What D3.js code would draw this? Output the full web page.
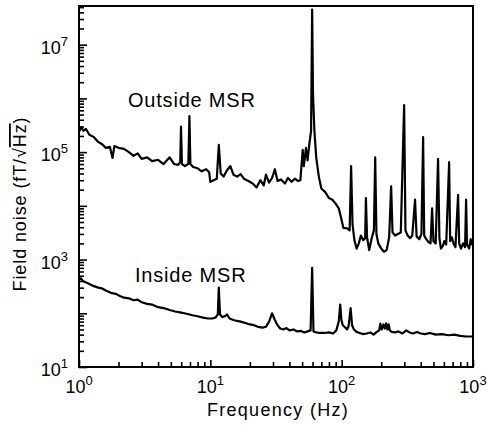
<!DOCTYPE html>
<html>
<head>
<meta charset="utf-8">
<script src="https://cdn.jsdelivr.net/npm/d3@7"></script>
<style>
  body { margin: 0; background: #fff; }
  text { font-family: "Liberation Sans", Arial, sans-serif; fill: #000; }
</style>
</head>
<body>
<div id="noise_chart"></div>
<script>

let outside_freq = [1.0, 1.04, 1.08, 1.13, 1.2, 1.3, 1.4, 1.5, 1.6, 1.72, 1.8, 1.86, 2.0, 2.2, 2.4, 2.6, 2.8, 3.0, 3.3, 3.6,
    4.0, 4.4, 4.9, 5.3, 5.7, 5.9, 5.98, 6.08, 6.4, 6.8, 6.93, 7.05, 7.4, 8.0, 8.6, 9.3, 9.8, 10.0, 10.6, 11.2,
    11.6, 12.0, 12.6, 13.4, 14.2, 15.0, 16.0, 17.0, 18.0, 19.5, 21.0, 22.5, 24.0, 25.5, 26.5, 28.0, 29.5, 31.0, 32.5, 34.5,
    37.0, 39.0, 41.5, 44.0, 46.5, 48.5, 50.5, 51.5, 53.5, 55.0, 56.5, 58.5, 59.6, 60.5, 62.0, 64.0, 67.0, 70.0, 75.0, 80.0,
    85.0, 90.0, 95.0, 99.0, 103, 110, 115, 118, 121, 125, 130, 135, 140, 146, 151, 153, 156, 162, 170, 176,
    180, 184, 190, 200, 210, 220, 230, 238, 244, 255, 268, 282, 299, 306, 318, 332, 345, 362, 372, 390,
    405, 417, 425, 440, 460, 475, 488, 500, 520, 542, 555, 570, 590, 605, 625, 658, 670, 690, 710, 735,
    770, 785, 810, 840, 870, 886, 900, 935, 960, 985, 1000];
let outside_noise = [2.4e5, 2.9e5, 2.5e5, 2.7e5, 2.1e5, 1.9e5, 1.55e5, 1.4e5, 1.2e5, 1.25e5, 7.8e4, 1.3e5, 1.2e5, 1.15e5, 1.0e5, 8.5e4, 9.5e4, 7.5e4, 8.0e4, 6.8e4,
    7.2e4, 6.0e4, 8.0e4, 6.0e4, 5.8e4, 6.5e4, 3.0e5, 6.0e4, 5.5e4, 6.0e4, 4.7e5, 6.0e4, 5.3e4, 5.0e4, 4.4e4, 4.8e4, 4.2e4, 2.8e4, 3.0e4, 3.2e4,
    1.36e5, 4.0e4, 3.5e4, 4.6e4, 5.5e4, 3.8e4, 3.5e4, 3.9e4, 3.2e4, 2.9e4, 2.6e4, 2.2e4, 3.0e4, 2.4e4, 3.8e4, 2.7e4, 3.3e4, 4.8e4, 2.9e4, 3.1e4,
    2.6e4, 3.3e4, 2.8e4, 3.2e4, 2.9e4, 3.0e4, 1.1e5, 5.5e4, 1.2e5, 7.0e4, 1.3e5, 2.5e5, 4.5e7, 1.2e6, 2.5e5, 8.0e4, 3.5e4, 2.1e4, 1.8e4, 1.4e4,
    1.3e4, 1.1e4, 9.0e3, 6.0e3, 3.9e3, 3.8e3, 3.5e3, 5.5e4, 4.5e3, 2.3e3, 1.6e3, 2.0e3, 2.8e3, 2.3e3, 2.5e3, 1.4e4, 2.6e3, 1.5e3, 2.6e3, 3.5e3,
    8.0e4, 3.0e3, 2.0e3, 1.6e3, 1.4e3, 1.5e3, 2.6e3, 2.3e4, 3.2e3, 2.8e3, 3.0e3, 3.2e3, 7.5e5, 3.5e3, 2.8e3, 2.5e3, 2.8e3, 1.3e4, 2.7e3, 2.4e3,
    3.0e3, 1.9e5, 2.8e3, 2.4e3, 2.1e3, 2.0e3, 9.0e3, 2.2e3, 2.0e3, 7.5e4, 2.5e3, 1.6e3, 1.8e3, 2.2e3, 1.9e3, 6.5e4, 2.2e3, 2.6e3, 2.0e3, 1.7e3,
    1.6e4, 2.0e3, 1.6e3, 2.0e3, 1.7e3, 1.3e4, 1.9e3, 1.6e3, 2.4e3, 1.9e3, 2.1e3];

let inside_freq = [1.0, 1.03, 1.07, 1.12, 1.2, 1.3, 1.4, 1.5, 1.6, 1.75, 1.9, 2.05, 2.2, 2.4, 2.6, 2.8, 3.0, 3.3, 3.6, 4.0,
    4.4, 4.9, 5.4, 6.0, 6.6, 7.3, 8.0, 8.8, 9.6, 10.4, 11.0, 11.4, 11.6, 11.85, 12.3, 12.9, 13.4, 14.0, 15.0, 16.0,
    17.0, 18.5, 20.0, 21.5, 23.0, 25.0, 26.5, 28.0, 29.5, 31.0, 32.5, 34.0, 36.0, 38.0, 40.0, 43.0, 46.0, 49.0, 52.0, 55.0,
    58.0, 59.6, 61.0, 64.0, 68.0, 74.0, 80.0, 86.0, 91.0, 95.0, 97.5, 99.5, 102, 106, 110, 113, 117, 120, 124, 130,
    137, 145, 155, 165, 175, 185, 193, 197, 202, 208, 213, 218, 223, 228, 233, 240, 255, 270, 290, 310,
    330, 350, 375, 400, 430, 470, 520, 580, 650, 720, 800, 880, 950, 1000];
let inside_noise = [420, 450, 400, 380, 350, 320, 300, 290, 265, 240, 230, 210, 195, 190, 175, 180, 160, 150, 145, 130,
    125, 115, 108, 103, 98, 92, 88, 83, 80, 80, 84, 95, 300, 95, 85, 88, 95, 80, 75, 72,
    70, 66, 62, 60, 56, 54, 56, 70, 100, 75, 60, 52, 50, 53, 48, 50, 46, 47, 44, 46,
    48, 700, 46, 44, 43, 43, 44, 42, 48, 70, 145, 75, 60, 55, 50, 58, 125, 60, 50, 45,
    43, 41, 42, 44, 40, 45, 48, 64, 50, 62, 52, 65, 50, 62, 48, 45, 44, 46, 42, 48,
    44, 42, 45, 42, 41, 43, 40, 41, 39, 40, 38, 37, 37, 37];

let x_major_ticks = [1, 10, 100, 1000];
let x_tick_exponents = ["0", "1", "2", "3"];
let y_major_ticks = [1e1, 1e2, 1e3, 1e4, 1e5, 1e6, 1e7];
let y_label_ticks = [1e1, 1e3, 1e5, 1e7];
let y_tick_exponents = ["1", "3", "5", "7"];
let curve_labels = ["Outside MSR", "Inside MSR"];
let curve_label_pos = [[2.36, 7.0e5], [2.67, 3.8e2]];

let chart_width = 488;
let chart_height = 426;
let margin_left = 79, margin_top = 6, margin_right = 15, margin_bottom = 59;
let width = chart_width - margin_left - margin_right;
let height = chart_height - margin_top - margin_bottom;

let svg = d3.select("#noise_chart")
    .append("svg")
    .attr("width", chart_width)
    .attr("height", chart_height)
    .append("g")
    .attr("transform", "translate(" + margin_left + "," + margin_top + ")");

let xScale = d3.scaleLog().domain([1, 1000]).range([0, width]);
let yScale = d3.scaleLog().domain([10, Math.pow(10, 7.72)]).range([height, 0]);

// minor ticks, 2..9 in each decade
let x_minor = [];
for (let d = 0; d < 3; d++) {
    for (let k = 2; k < 10; k++) x_minor.push(k * Math.pow(10, d));
}
let y_minor = [];
for (let d = 1; d < 8; d++) {
    for (let k = 2; k < 10; k++) {
        let v = k * Math.pow(10, d);
        if (v < yScale.domain()[1]) y_minor.push(v);
    }
}

let x_minor_axis = svg.append("g")
    .attr("transform", "translate(0," + height + ")")
    .call(d3.axisBottom(xScale).tickValues(x_minor).tickSize(-5).tickFormat(""));
let x_major_axis = svg.append("g")
    .attr("transform", "translate(0," + height + ")")
    .call(d3.axisBottom(xScale).tickValues(x_major_ticks).tickSize(-7).tickFormat(""));
let y_minor_axis = svg.append("g")
    .call(d3.axisLeft(yScale).tickValues(y_minor).tickSize(-5).tickFormat(""));
let y_major_axis = svg.append("g")
    .call(d3.axisLeft(yScale).tickValues(y_major_ticks).tickSize(-8).tickFormat(""));

svg.selectAll(".domain").remove();
svg.selectAll(".tick line").attr("stroke", "#000").attr("stroke-width", 1.6);

// frame
svg.append("rect")
    .attr("x", 0)
    .attr("y", 0)
    .attr("width", width)
    .attr("height", height)
    .attr("fill", "none")
    .attr("stroke", "#000")
    .attr("stroke-width", 2);

// tick labels with superscripts
let x_labels = svg.selectAll(".x_label")
    .data(x_major_ticks)
    .enter()
    .append("text")
    .attr("class", "x_label")
    .attr("x", d => xScale(d))
    .attr("y", height + 26)
    .attr("text-anchor", "middle")
    .style("font-size", "18px");
x_labels.append("tspan").text("10");
x_labels.append("tspan").attr("dy", -8).style("font-size", "13px").text((d, i) => x_tick_exponents[i]);

let y_labels = svg.selectAll(".y_label")
    .data(y_label_ticks)
    .enter()
    .append("text")
    .attr("class", "y_label")
    .attr("x", -11)
    .attr("y", d => yScale(d) + 9)
    .attr("text-anchor", "end")
    .style("font-size", "18px");
y_labels.append("tspan").text("10");
y_labels.append("tspan").attr("dy", -8).style("font-size", "13px").text((d, i) => y_tick_exponents[i]);

// axis titles
svg.append("text")
    .attr("x", width / 2 + 2)
    .attr("y", height + 49)
    .attr("text-anchor", "middle")
    .style("font-size", "18px")
    .style("letter-spacing", "1.3px")
    .text("Frequency (Hz)");

let y_title = svg.append("text")
    .attr("transform", "translate(" + (-53) + "," + 198 + ") rotate(-90)")
    .attr("text-anchor", "middle")
    .style("font-size", "18px")
    .style("letter-spacing", "0.9px");
y_title.append("tspan").text("Field noise (fT/\u221A");
y_title.append("tspan").style("text-decoration", "overline").text("Hz");
y_title.append("tspan").text(")");

// curves
let line = d3.line()
    .x(d => xScale(d[0]))
    .y(d => yScale(d[1]));

svg.append("path")
    .datum(d3.zip(outside_freq, outside_noise))
    .attr("d", line)
    .attr("fill", "none")
    .attr("stroke", "#000")
    .attr("stroke-width", 2.2)
    .attr("stroke-linejoin", "round");

svg.append("path")
    .datum(d3.zip(inside_freq, inside_noise))
    .attr("d", line)
    .attr("fill", "none")
    .attr("stroke", "#000")
    .attr("stroke-width", 2.2)
    .attr("stroke-linejoin", "round");

svg.selectAll(".curve_label")
    .data(curve_labels)
    .enter()
    .append("text")
    .attr("class", "curve_label")
    .attr("x", (d, i) => xScale(curve_label_pos[i][0]))
    .attr("y", (d, i) => yScale(curve_label_pos[i][1]))
    .style("font-size", "20px")
    .style("letter-spacing", "0.8px")
    .text(d => d);

</script>
</body>
</html>
